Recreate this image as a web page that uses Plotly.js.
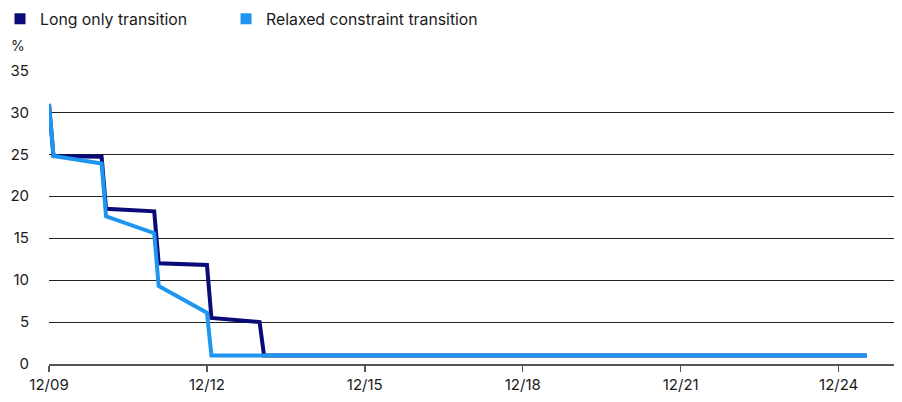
<!DOCTYPE html>
<html>
<head>
<meta charset="utf-8">
<script src="https://cdn.plot.ly/plotly-3.0.1.min.js"></script>
<style>
  html, body { margin: 0; padding: 0; background: #fff; }
  #chart { width: 902px; height: 402px; }
</style>
</head>
<body>
<div id="chart"></div>
<script>
// step dates (month of rebalance) and weights in %
var longDates = ['2009-12-01', '2010-01-01', '2010-12-01', '2011-01-01', '2011-12-01', '2012-01-01',
                 '2012-12-01', '2013-01-01', '2013-12-01', '2014-01-01', '2025-06-15'];
var longOnly = [31.0, 24.8, 24.7, 18.5, 18.2, 12.0, 11.8, 5.5, 5.0, 1.0, 1.0];

var relaxedDates = ['2009-12-01', '2010-01-01', '2010-12-01', '2011-01-01', '2011-12-01', '2012-01-01',
                    '2012-12-01', '2013-01-01', '2025-06-15'];
var relaxed = [31.0, 24.8, 23.9, 17.6, 15.6, 9.3, 6.1, 1.0, 1.0];

var tickDates = ['2009-12-01', '2012-12-01', '2015-12-01', '2018-12-01', '2021-12-01', '2024-12-01'];
var tickLabels = ['12/09', '12/12', '12/15', '12/18', '12/21', '12/24'];

var navy = '#0A0A78';
var sky = '#1E96F0';
var ink = '#1a1a1a';

var longLine = {
  x: longDates, y: longOnly,
  mode: 'lines', name: 'Long only transition',
  line: {color: navy, width: 4},
  showlegend: false
};

var relaxedLine = {
  x: relaxedDates, y: relaxed,
  mode: 'lines', name: 'Relaxed constraint transition',
  line: {color: sky, width: 4},
  showlegend: false
};

// square legend keys, one legend each so they can be placed freely
var longKey = {
  x: [null], y: [null], mode: 'markers', name: 'Long only transition',
  marker: {symbol: 'square', color: navy, size: 11},
  legend: 'legend'
};
var relaxedKey = {
  x: [null], y: [null], mode: 'markers', name: 'Relaxed constraint transition',
  marker: {symbol: 'square', color: sky, size: 11},
  legend: 'legend2'
};

var legendBase = {
  orientation: 'h', xref: 'container', yref: 'container',
  xanchor: 'left', y: 0.995, yanchor: 'top',
  font: {size: 15.8, color: ink},
  itemwidth: 30, bgcolor: 'rgba(0,0,0,0)'
};

var layout = {
  width: 902, height: 402,
  margin: {l: 49, r: 8, t: 70, b: 38},
  paper_bgcolor: '#fff', plot_bgcolor: '#fff',
  font: {family: 'Inter, "Noto Sans", sans-serif', size: 14, color: ink},
  showlegend: true,
  legend: Object.assign({}, legendBase, {x: 0}),
  legend2: Object.assign({}, legendBase, {x: 0.2506}),
  xaxis: {
    type: 'date', automargin: false,
    range: ['2009-12-01', '2025-12-20'],
    tickvals: tickDates, ticktext: tickLabels,
    showgrid: false, zeroline: false,
    showline: true, linecolor: '#555', linewidth: 1.5,
    ticks: 'outside', ticklen: 6, tickcolor: '#555', tickwidth: 1.5,
    tickfont: {size: 15, color: ink}
  },
  yaxis: {
    range: [0, 35.05], dtick: 5, automargin: false,
    showgrid: true, gridcolor: '#222', gridwidth: 1,
    zeroline: false, showline: false,
    ticks: '', ticklabelstandoff: 19,
    tickfont: {size: 15, color: ink}
  },
  annotations: [{
    text: '%', xref: 'paper', yref: 'paper',
    x: -0.0473, y: 1.085, xanchor: 'left', yanchor: 'middle',
    showarrow: false, font: {size: 14, color: ink}
  }]
};

Plotly.newPlot('chart', [longLine, relaxedLine, longKey, relaxedKey], layout, {displayModeBar: false, staticPlot: true});
</script>
</body>
</html>
